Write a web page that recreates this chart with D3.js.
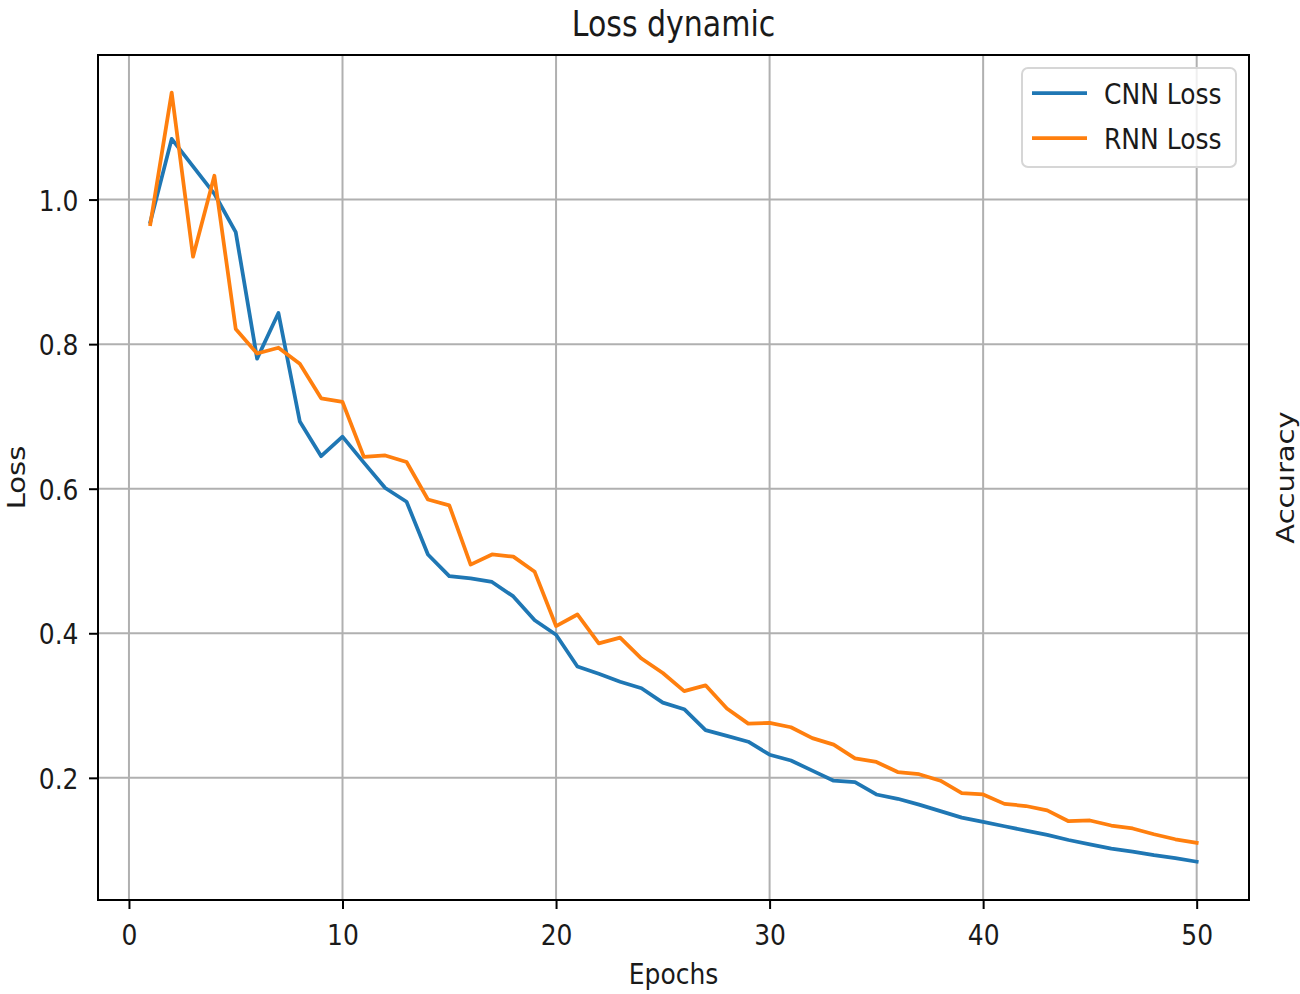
<!DOCTYPE html>
<html>
<head>
<meta charset="utf-8">
<script src="https://cdn.jsdelivr.net/npm/d3@7"></script>
<style>
  html, body { margin: 0; padding: 0; background: #fff; }
  svg { display: block; }
  text { font-family: "DejaVu Sans", sans-serif; fill: #1a1a1a; }
</style>
</head>
<body>
<svg id="chart" width="1300" height="994"></svg>
<script>
// values
const epochs = d3.range(1, 51);
const cnnLoss = [
  0.969, 1.084, 1.046, 1.008, 0.955, 0.780, 0.843, 0.693, 0.645, 0.672,
  0.636, 0.601, 0.582, 0.509, 0.479, 0.476, 0.471, 0.451, 0.418, 0.398,
  0.354, 0.344, 0.333, 0.324, 0.304, 0.295, 0.266, 0.258, 0.250, 0.232,
  0.224, 0.210, 0.196, 0.194, 0.177, 0.171, 0.163, 0.154, 0.145, 0.139,
  0.133, 0.127, 0.121, 0.114, 0.108, 0.102, 0.098, 0.093, 0.089, 0.084
];
const rnnLoss = [
  0.966, 1.148, 0.921, 1.033, 0.821, 0.787, 0.795, 0.773, 0.725, 0.720,
  0.644, 0.646, 0.637, 0.585, 0.577, 0.495, 0.509, 0.506, 0.485, 0.410,
  0.426, 0.386, 0.394, 0.365, 0.345, 0.320, 0.328, 0.296, 0.275, 0.276,
  0.270, 0.255, 0.246, 0.227, 0.222, 0.208, 0.205, 0.196, 0.179, 0.177,
  0.164, 0.161, 0.155, 0.140, 0.141, 0.134, 0.130, 0.122, 0.115, 0.110
];
const seriesNames = ["CNN Loss", "RNN Loss"];
const seriesColors = ["#1f77b4", "#ff7f0e"];
const xTicks = [0, 10, 20, 30, 40, 50];
const yTicks = [0.2, 0.4, 0.6, 0.8, 1.0];

const plot = { left: 98, right: 1249, top: 55, bottom: 900 };
const fontSize = 25;
const stretch = 1.16; // the reference is a little taller than wide

const svg = d3.select("#chart");

const x = d3.scaleLinear().domain([-1.45, 52.45]).range([plot.left, plot.right]);
const y = d3.scaleLinear().domain([0.031, 1.2]).range([plot.bottom, plot.top]);

// grid
const grid = svg.append("g").attr("stroke", "#b0b0b0").attr("stroke-width", 2);
grid.selectAll(".gx").data(xTicks).join("line")
  .attr("x1", d => x(d)).attr("x2", d => x(d))
  .attr("y1", plot.top).attr("y2", plot.bottom);
grid.selectAll(".gy").data(yTicks).join("line")
  .attr("x1", plot.left).attr("x2", plot.right)
  .attr("y1", d => y(d)).attr("y2", d => y(d));

// lines
const line = d3.line().x((d, i) => x(epochs[i])).y(d => y(d));
[cnnLoss, rnnLoss].forEach((vals, k) => {
  svg.append("path")
    .datum(vals)
    .attr("fill", "none")
    .attr("stroke", seriesColors[k])
    .attr("stroke-width", 3.75)
    .attr("stroke-linejoin", "round")
    .attr("stroke-linecap", "square")
    .attr("d", line);
});

// axes
const xAxis = d3.axisBottom(x).tickValues(xTicks).tickSize(9).tickPadding(0).tickFormat(d3.format("d"));
const yAxis = d3.axisLeft(y).tickValues(yTicks).tickSize(9).tickPadding(0).tickFormat(d3.format(".1f"));

const gx = svg.append("g").attr("transform", `translate(0,${plot.bottom})`).call(xAxis);
const gy = svg.append("g").attr("transform", `translate(${plot.left},0)`).call(yAxis);
[gx, gy].forEach(g => {
  g.select(".domain").remove();
  g.selectAll(".tick line").attr("stroke", "#000").attr("stroke-width", 2);
  g.selectAll(".tick text").attr("font-size", fontSize).attr("fill", "#1a1a1a")
    .attr("font-family", "DejaVu Sans, sans-serif");
});
gx.selectAll(".tick text")
  .attr("y", 0).attr("dy", null)
  .attr("transform", `translate(0,34) scale(1,${stretch})`)
  .attr("dominant-baseline", null)
  .attr("dy", "0.364em");
gy.selectAll(".tick text")
  .attr("x", 0).attr("dy", null)
  .attr("transform", `translate(-19.5,0) scale(1,${stretch})`)
  .attr("dy", "0.364em");

// frame
svg.append("rect")
  .attr("x", plot.left).attr("y", plot.top)
  .attr("width", plot.right - plot.left).attr("height", plot.bottom - plot.top)
  .attr("fill", "none").attr("stroke", "#000").attr("stroke-width", 2);

const cx = (plot.left + plot.right) / 2;
const cy = (plot.top + plot.bottom) / 2;

// title and axis labels
svg.append("text")
  .attr("transform", `translate(${cx},36) scale(1,${stretch})`)
  .attr("text-anchor", "middle").attr("font-size", 30)
  .text("Loss dynamic");
svg.append("text")
  .attr("transform", `translate(${cx},984) scale(1,${stretch})`)
  .attr("text-anchor", "middle").attr("font-size", fontSize)
  .text("Epochs");
svg.append("text")
  .attr("transform", `translate(25,${cy}) rotate(-90) scale(${stretch},1)`)
  .attr("text-anchor", "middle").attr("font-size", fontSize)
  .text("Loss");
svg.append("text")
  .attr("transform", `translate(1294,${cy}) rotate(-90) scale(${stretch},1)`)
  .attr("text-anchor", "middle").attr("font-size", fontSize)
  .text("Accuracy");

// legend
const legend = svg.append("g");
legend.append("rect")
  .attr("x", 1022).attr("y", 68).attr("width", 214).attr("height", 99)
  .attr("rx", 6).attr("fill", "#fff").attr("fill-opacity", 0.8)
  .attr("stroke", "#d6d6d6").attr("stroke-width", 2);
const items = legend.selectAll(".item").data(seriesNames).join("g")
  .attr("transform", (d, i) => `translate(0,${93 + i * 45})`);
items.append("line")
  .attr("x1", 1032).attr("x2", 1087)
  .attr("stroke", (d, i) => seriesColors[i]).attr("stroke-width", 3.75);
items.append("text")
  .attr("transform", `translate(1104,0) scale(1,${stretch})`)
  .attr("dy", "0.364em").attr("font-size", fontSize)
  .text(d => d);
</script>
</body>
</html>
